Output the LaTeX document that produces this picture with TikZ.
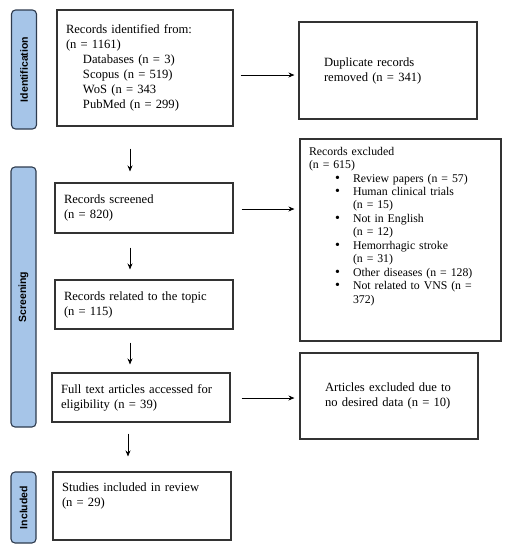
\documentclass[tikz,border=0pt]{standalone}
\usepackage{fontspec}
\setmainfont{Liberation Serif}
\newfontfamily\barfont{Liberation Sans}
\usetikzlibrary{arrows.meta}
\definecolor{barfill}{HTML}{A6C5E8}
\definecolor{barline}{HTML}{2E3B4E}
\definecolor{boxline}{HTML}{333333}
\tikzset{
  box/.style={draw=boxline, line width=1.1pt, rectangle, inner xsep=9pt, inner ysep=4pt,
    align=left, font=\fontsize{12.6}{15}\selectfont},
  sidebar/.style={draw=barline, fill=barfill, line width=1.1pt, rounded corners=4pt,
    minimum width=25pt},
  sidelabel/.style={rotate=90, font=\barfont\bfseries\fontsize{10.5}{12}\selectfont},
  arr/.style={-{Stealth[length=6pt,width=5pt]}, line width=0.9pt, black}
}
\newcommand{\bul}[1]{\hspace*{26pt}\makebox[18pt][l]{{\fontsize{14}{13}\selectfont\textbullet}}#1}
\newcommand{\cont}[1]{\hspace*{44pt}#1}
\begin{document}
\begin{tikzpicture}[x=1pt,y=-1pt]
\useasboundingbox (0,0) rectangle (506,550);
% side bars
\node[sidebar, minimum height=119pt] (idbar) at (24,69.5) {};
\node[sidelabel] (idlab) at (idbar.center) {Identification};
\node[sidebar, minimum height=260pt] (scrbar) at (23.5,297) {};
\node[sidelabel] (scrlab) at (scrbar.center) {Screening};
\node[sidebar, minimum height=71pt] (incbar) at (23.5,507.5) {};
\node[sidelabel] (inclab) at (incbar.center) {Included};
% boxes
\node[box, minimum width=176pt, minimum height=116pt, text width=158pt] (id) at (145,68)
  {Records identified from:\\(n = 1161)\\\hspace*{17pt}Databases (n = 3)\\\hspace*{17pt}Scopus (n = 519)\\\hspace*{17pt}WoS (n = 343\\\hspace*{17pt}PubMed (n = 299)};
\node[box, minimum width=178pt, minimum height=97pt, text width=128pt] (dup) at (388,70.5)
  {Duplicate records\\removed (n = 341)};
\node[box, minimum width=201pt, minimum height=202pt, text width=183pt,
  font=\fontsize{11.8}{13.45}\selectfont] (exc) at (400.5,240)
  {\parbox[t][186pt][t]{183pt}{Records excluded\\(n = 615)\\
   \bul{Review papers (n = 57)}\\
   \bul{Human clinical trials}\\\cont{(n = 15)}\\
   \bul{Not in English}\\\cont{(n = 12)}\\
   \bul{Hemorrhagic stroke}\\\cont{(n = 31)}\\
   \bul{Other diseases (n = 128)}\\
   \bul{Not related to VNS (n =}\\\cont{372)}}};
\node[box, minimum width=178pt, minimum height=50pt, text width=160pt] (scr) at (144,208)
  {Records screened\\(n = 820)};
\node[box, minimum width=178pt, minimum height=49pt, text width=160pt] (rel) at (144,304.5)
  {Records related to the topic\\(n = 115)};
\node[box, minimum width=178pt, minimum height=49pt, text width=160pt] (full) at (141,397.5)
  {Full text articles accessed for\\eligibility (n = 39)};
\node[box, minimum width=178pt, minimum height=86pt, text width=128pt] (art) at (389,396)
  {Articles excluded due to\\no desired data (n = 10)};
\node[box, minimum width=178pt, minimum height=68pt, text width=160pt] (inc) at (142,506)
  {\parbox[t][46pt][t]{160pt}{Studies included in review\\(n = 29)}};
% arrows
\coordinate (ax) at (130,0);
\coordinate (bx) at (128,0);
\draw[arr, shorten <=22pt, shorten >=11pt] (id.south -| ax) -- (scr.north -| ax);
\draw[arr, shorten <=14pt, shorten >=10pt] (scr.south -| ax) -- (rel.north -| ax);
\draw[arr, shorten <=13pt, shorten >=8pt] (rel.south -| ax) -- (full.north -| ax);
\draw[arr, shorten <=11pt, shorten >=15pt] (full.south -| bx) -- (inc.north -| bx);
\coordinate (h1) at (0,75);
\coordinate (h2) at (0,209);
\coordinate (h3) at (0,398);
\draw[arr, shorten <=7pt, shorten >=4pt] (id.east |- h1) -- (dup.west |- h1);
\draw[arr, shorten <=8pt, shorten >=5pt] (scr.east |- h2) -- (exc.west |- h2);
\draw[arr, shorten <=11pt, shorten >=5pt] (full.east |- h3) -- (art.west |- h3);
\end{tikzpicture}
\end{document}
